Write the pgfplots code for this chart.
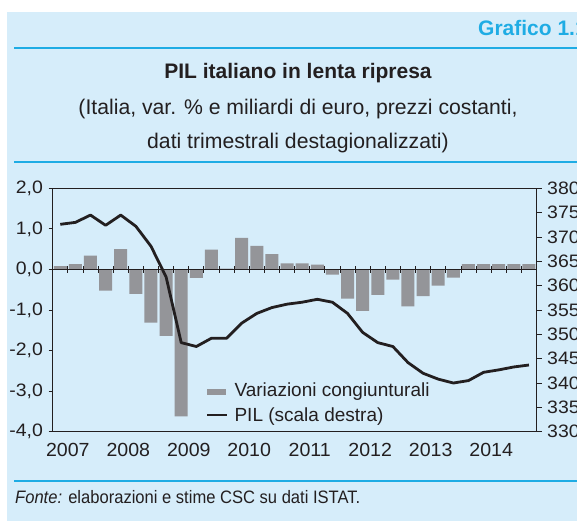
\documentclass[border=0pt]{standalone}
\usepackage{pgfplots}
\pgfplotsset{compat=1.18}
\usepackage{fontspec}
\setmainfont{Liberation Sans}
\newfontfamily\ytfont[FakeStretch=1.08]{Liberation Sans}
\newfontfamily\xtfont[FakeStretch=1.03]{Liberation Sans}
\newfontfamily\fontefont[FakeStretch=0.92]{Liberation Sans}
\definecolor{bgblue}{RGB}{214,237,250}
\definecolor{cyanline}{RGB}{30,172,228}
\definecolor{bargray}{RGB}{148,149,153}
\definecolor{txt}{RGB}{35,31,32}

\begin{document}
\begin{tikzpicture}
\useasboundingbox (0pt,0pt) rectangle (577pt,522pt);
\fill[bgblue] (7.3pt,1.3pt) rectangle (590pt,510.3pt);
\draw[cyanline, line width=2.3pt] (14pt,474.3pt) -- (590pt,474.3pt);
\draw[cyanline, line width=2.3pt] (14pt,360.3pt) -- (590pt,360.3pt);
\draw[cyanline, line width=2.3pt] (14pt,41pt) -- (590pt,41pt);
\node[anchor=base west, inner sep=0pt, text=cyanline, font=\fontsize{21}{24}\selectfont\bfseries] at (478pt,486pt) {Grafico 1.1};
\node[anchor=base, inner sep=0pt, text=txt, font=\fontsize{21}{25}\selectfont\bfseries] at (298pt,443pt) {PIL italiano in lenta ripresa};
\node[anchor=base, inner sep=0pt, text=txt, font=\fontsize{21.2}{25}\selectfont] at (298pt,407pt) {(Italia, var. \% e miliardi di euro, prezzi costanti,};
\node[anchor=base, inner sep=0pt, text=txt, font=\fontsize{21.2}{25}\selectfont] at (298pt,373pt) {dati trimestrali destagionalizzati)};
\node[anchor=base west, inner sep=0pt, text=txt, font=\fontefont\fontsize{18}{22}\selectfont] at (15pt,18.7pt) {\textit{Fonte:} elaborazioni e stime CSC su dati ISTAT.};

\begin{axis}[
  at={(52.7pt,90.3pt)}, anchor=south west,
  scale only axis, width=483.8pt, height=243.4pt,
  xmin=-0.5, xmax=31.5, ymin=-4, ymax=2,
  axis line style={txt, line width=0.8pt},
  xtick={0.5,4.5,8.5,12.5,16.5,20.5,24.5,28.5},
  xticklabels={2007,2008,2009,2010,2011,2012,2013,2014},
  xtick style={draw=none},
  x tick label style={font=\xtfont\fontsize{19}{22}\selectfont, text=txt, inner sep=0pt, anchor=north, yshift=-7.3pt},
  ytick={-4,-3,-2,-1,0,1,2},
  yticklabels={{-4,0},{-3,0},{-2,0},{-1,0},{0,0},{1,0},{2,0}},
  ytick pos=left,
  tick align=outside, major tick length=4pt,
  ytick style={txt, line width=0.8pt},
  y tick label style={font=\ytfont\fontsize{18}{21}\selectfont, text=txt, inner sep=0pt, anchor=east, xshift=-5.6pt},
  ybar, bar width=13pt,
  legend style={at={(rel axis cs:0.317,0.2013)}, anchor=north west, draw=none, fill=none,
    inner sep=0pt, font=\fontsize{19}{22}\selectfont, text=txt,
    /tikz/every odd column/.append style={column sep=6pt},
    nodes={inner sep=0pt, text height=14pt, text depth=4pt},
    row sep=7pt},
  legend cell align=left,
]
\addplot[fill=bargray, draw=none,
  legend image code/.code={\fill[bargray] (0pt,-2.75pt) rectangle (19pt,2.75pt);}]
  coordinates {
  (0,0.08) (1,0.13) (2,0.34) (3,-0.52) (4,0.50) (5,-0.60) (6,-1.31) (7,-1.64)
  (8,-3.62) (9,-0.21) (10,0.49) (11,0.02) (12,0.78) (13,0.58) (14,0.38) (15,0.15)
  (16,0.15) (17,0.12) (18,-0.13) (19,-0.72) (20,-1.02) (21,-0.63) (22,-0.25) (23,-0.91)
  (24,-0.66) (25,-0.40) (26,-0.20) (27,0.13) (28,0.13) (29,0.13) (30,0.13) (31,0.13)
  };
\addlegendentry{Variazioni congiunturali}
\addlegendimage{legend image code/.code={\draw[txt, line width=2.3pt] (0pt,2pt) -- (20pt,2pt);}}
\addlegendentry{PIL (scala destra)}
\draw[txt, line width=0.8pt] (axis cs:-0.5,0) -- (axis cs:31.5,0);
\pgfplotsinvokeforeach{0.5,1.5,...,30.5}{
  \draw[txt, line width=0.8pt] (axis cs:#1,0) ++(0pt,3pt) -- ++(0pt,-7pt);
}
\end{axis}

\begin{axis}[
  at={(52.7pt,90.3pt)}, anchor=south west,
  scale only axis, width=483.8pt, height=243.4pt,
  xmin=-0.5, xmax=31.5, ymin=330, ymax=380,
  axis x line=none, axis y line*=right,
  axis line style={txt, line width=0.8pt},
  ytick={330,335,340,345,350,355,360,365,370,375,380},
  yticklabels={330,335,340,345,350,355,360,365,370,375,380},
  tick align=outside, major tick length=5pt,
  ytick style={txt, line width=0.8pt},
  y tick label style={font=\ytfont\fontsize{18}{21}\selectfont, text=txt, inner sep=0pt, anchor=west, xshift=5.5pt},
]
\addplot[txt, line width=2.8pt, line join=round, mark=none] coordinates {
  (0,372.6) (1,373.0) (2,374.5) (3,372.4) (4,374.5) (5,372.2) (6,368.1) (7,361.8)
  (8,348.3) (9,347.5) (10,349.2) (11,349.2) (12,352.3) (13,354.3) (14,355.5) (15,356.2)
  (16,356.6) (17,357.2) (18,356.6) (19,354.3) (20,350.4) (21,348.3) (22,347.5) (23,344.2)
  (24,342.0) (25,340.8) (26,340.0) (27,340.5) (28,342.2) (29,342.7) (30,343.3) (31,343.7)
};
\end{axis}
\end{tikzpicture}
\end{document}
